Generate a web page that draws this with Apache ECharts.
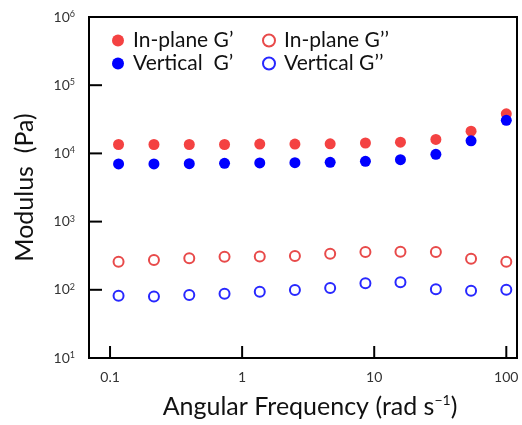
<!DOCTYPE html>
<html><head><meta charset="utf-8">
<script src="https://cdn.jsdelivr.net/npm/echarts@6/dist/echarts.min.js"></script>
<style>html,body{margin:0;padding:0;background:#fff}#c{width:522px;height:425px}</style>
</head><body><div id="c"></div>
<script>
var freq = [0.116, 0.215, 0.398, 0.736, 1.36, 2.51, 4.64, 8.58, 15.8, 29.3, 54.1, 100];
var inPlaneGp = [13500, 13500, 13500, 13500, 13700, 13700, 13800, 14200, 14600, 16000, 21200, 38100];
var verticalGp = [7000, 7000, 7080, 7150, 7250, 7320, 7400, 7650, 8100, 9700, 15300, 30600];
var inPlaneGpp = [258, 273, 289, 305, 309, 312, 337, 357, 360, 357, 285, 258];
var verticalGpp = [82, 80, 84, 87.5, 93.5, 99, 106, 125, 129, 102, 97, 100];
var xTickValues = [0.1, 1, 10, 100];
var xTickLabels = ['0.1', '1', '10', '100'];
var yTickValues = [10, 100, 1000, 10000, 100000, 1000000];
var seriesNames = ['In-plane G\u2019', 'Vertical  G\u2019', 'In-plane G\u2019\u2019', 'Vertical G\u2019\u2019'];

function pairs(ys){ return freq.map(function(x,i){ return [x, ys[i]]; }); }
function isPow(v){ var l = Math.log10(v); return Math.abs(l - Math.round(l)) < 1e-6 ? Math.round(l) : null; }

var FONT = 'Lato';
var X_MIN = 0.0693, X_MAX = 120.5, Y_MIN = 10, Y_MAX = 1000000;
var chart = echarts.init(document.getElementById('c'));
var legendText = { fontFamily: FONT, fontSize: 21, color: '#111', lineHeight: 21 };

// tick anchors on the axes: [x, y, kind] (kind 0 = x-axis tick, 1 = y-axis tick)
var tickData = xTickValues.map(function(v){ return [v, Y_MIN, 0]; })
  .concat(yTickValues.map(function(v){ return [X_MIN, v, 1]; }));

chart.setOption({
  animation: false,
  textStyle: { fontFamily: FONT },
  grid: { left: 89, top: 17, right: 5, bottom: 63, show: true, borderColor: '#000', borderWidth: 2, backgroundColor: 'transparent' },
  legend: [
    { data: [seriesNames[0], seriesNames[1]], orient: 'vertical', left: 107, top: 25, itemWidth: 20, itemHeight: 12, itemGap: 2, textStyle: legendText },
    { data: [seriesNames[2], seriesNames[3]], orient: 'vertical', left: 257, top: 25, itemWidth: 20, itemHeight: 12, itemGap: 2, textStyle: legendText }
  ],
  xAxis: {
    type: 'log', logBase: 10, min: X_MIN, max: X_MAX,
    name: 'Angular Frequency (rad s{sup|\u22121})', nameLocation: 'middle', nameGap: 35,
    nameTextStyle: { fontFamily: FONT, fontSize: 25, color: '#111', padding: [0, 0, 0, 14], lineHeight: 27,
      rich: { sup: { fontFamily: FONT, fontSize: 14, color: '#111', verticalAlign: 'top', lineHeight: 14 } } },
    axisLine: { show: true, onZero: false, lineStyle: { color: '#000', width: 2 } },
    axisTick: { show: false },
    minorTick: { show: false },
    splitLine: { show: false },
    axisLabel: { margin: 12, fontFamily: FONT, fontSize: 14, color: '#333',
      formatter: function(v){ var p = isPow(v); return (p === null || p < -1 || p > 2) ? '' : xTickLabels[p + 1]; } }
  },
  yAxis: {
    type: 'log', logBase: 10, min: Y_MIN, max: Y_MAX,
    name: 'Modulus  (Pa)', nameLocation: 'middle', nameGap: 52,
    nameTextStyle: { fontFamily: FONT, fontSize: 25, color: '#111' },
    axisLine: { show: true, onZero: false, lineStyle: { color: '#000', width: 2 } },
    axisTick: { show: false },
    minorTick: { show: false },
    splitLine: { show: false },
    axisLabel: { margin: 14, fontFamily: FONT, color: '#333',
      formatter: function(v){ var p = isPow(v); return p === null ? '' : '{b|10}{s|' + p + '}'; },
      rich: { b: { fontFamily: FONT, fontSize: 14, color: '#333' }, s: { fontFamily: FONT, fontSize: 9, color: '#333', verticalAlign: 'top', padding: [0,0,6,0] } } }
  },
  series: [
    { name: 'ticks', type: 'custom', silent: true, clip: false, z: 10, data: tickData,
      renderItem: function(params, api){
        var p = api.coord([api.value(0), api.value(1)]);
        var kind = api.value(2);
        var x2 = kind === 0 ? p[0] : p[0] + 13;
        var y2 = kind === 0 ? p[1] - 12 : p[1];
        return { type: 'line', shape: { x1: p[0], y1: p[1], x2: x2, y2: y2 }, style: { stroke: '#000', lineWidth: 2, fill: null } };
      } },
    { name: seriesNames[0], type: 'scatter', data: pairs(inPlaneGp), symbol: 'circle', symbolSize: 11, itemStyle: { color: '#f44242', opacity: 1 } },
    { name: seriesNames[1], type: 'scatter', data: pairs(verticalGp), symbol: 'circle', symbolSize: 11, itemStyle: { color: '#0000ff', opacity: 1 } },
    { name: seriesNames[2], type: 'scatter', data: pairs(inPlaneGpp), symbol: 'emptyCircle', symbolSize: 10, itemStyle: { color: '#e84a4a', borderColor: '#e84a4a', borderWidth: 1.2, opacity: 1 } },
    { name: seriesNames[3], type: 'scatter', data: pairs(verticalGpp), symbol: 'emptyCircle', symbolSize: 10, itemStyle: { color: '#2828ff', borderColor: '#2828ff', borderWidth: 1.2, opacity: 1 } }
  ]
});
</script></body></html>
